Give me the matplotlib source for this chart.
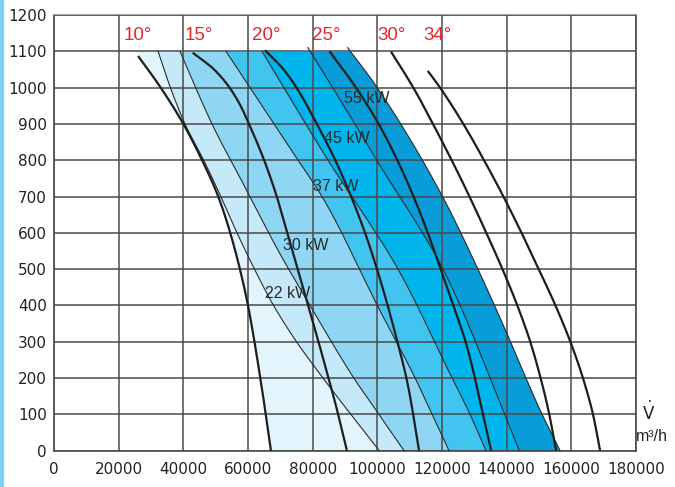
import numpy as np
import matplotlib.pyplot as plt
from matplotlib.patches import Rectangle

# fan curves, one per blade angle: airflow (m3/h) and pressure (Pa)
c10_x = [26000, 33000, 40000, 45800, 50800, 54500, 57500, 60000, 62000, 63800, 65500, 67100]
c10_y = [1087, 1000, 900, 800, 700, 600, 500, 400, 300, 200, 100, 0]
c15_x = [42900, 49500, 54300, 57700, 60300, 65000, 68900, 72200, 75400, 78600, 81800, 84900, 87900, 90600]
c15_y = [1096, 1050, 1000, 950, 900, 800, 700, 600, 500, 400, 300, 200, 100, 0]
c20_x = [65260, 71000, 75000, 81300, 87000, 91900, 96200, 99900, 103200, 106200, 109000, 111100, 112900]
c20_y = [1103, 1050, 1000, 900, 800, 700, 600, 500, 400, 300, 200, 100, 0]
c25_x = [85200, 93400, 100400, 106200, 111200, 115600, 119600, 123500, 127300, 130200, 132700, 135200]
c25_y = [1100, 1000, 900, 800, 700, 600, 500, 400, 300, 200, 100, 0]
c30_x = [104230, 111130, 117200, 123000, 128500, 133700, 138700, 143300, 147300, 150500, 152900, 155300]
c30_y = [1099, 1000, 900, 800, 700, 600, 500, 400, 300, 200, 112, 0]
c34_x = [115600, 119400, 126600, 133000, 139000, 144600, 149900, 155100, 159700, 163600, 166700, 168900]
c34_y = [1046, 1000, 900, 800, 700, 600, 500, 400, 300, 200, 100, 0]
angles = ['10°', '15°', '20°', '25°', '30°', '34°']

# motor power lines
p22_x = [32200, 36000, 40500, 46300, 51600, 56600, 62000, 67900, 75000, 83200, 91800, 100600]
p22_y = [1100, 1000, 900, 800, 700, 600, 500, 400, 300, 200, 100, 0]
p30_x = [38970, 48870, 60620, 69280, 80110, 93100, 99590, 108250]
p30_y = [1100, 900, 700, 552, 386, 195, 112, 0]
p37_x = [53200, 75470, 82900, 100800, 111970, 116300, 122170]
p37_y = [1100, 800, 700, 386, 195, 112, 0]
p45_x = [64330, 84750, 106400, 123410, 128050, 133620]
p45_y = [1100, 800, 500, 195, 112, 0]
p55_x = [78500, 85370, 99810, 120320, 138870, 143920]
p55_y = [1110, 1012, 800, 500, 112, 0]
pmax_x = [90800, 92080, 99810, 119920, 130740, 140020, 150320, 156510]
pmax_y = [1110, 1095, 1002, 704, 507, 324, 112, 0]
powers = ['22 kW', '30 kW', '37 kW', '45 kW', '55 kW']

band_colors = ['#e2f4fc', '#c6e9f9', '#8fd6f5', '#41c4f0', '#00b5ec', '#089dd8']


def pchip(xs, ys, yq):
    # monotone cubic, x as a function of pressure
    y = np.asarray(ys[::-1], float)
    x = np.asarray(xs[::-1], float)
    yq = np.clip(yq, y[0], y[-1])
    h = np.diff(y)
    d = np.diff(x) / h
    m = np.zeros_like(x)
    m[0], m[-1] = d[0], d[-1]
    for k in range(1, len(x) - 1):
        if d[k - 1] * d[k] > 0:
            w1 = 2 * h[k] + h[k - 1]
            w2 = h[k] + 2 * h[k - 1]
            m[k] = (w1 + w2) / (w1 / d[k - 1] + w2 / d[k])
    i = np.clip(np.searchsorted(y, yq) - 1, 0, len(y) - 2)
    t = (yq - y[i]) / h[i]
    return ((2 * t**3 - 3 * t**2 + 1) * x[i] + (t**3 - 2 * t**2 + t) * h[i] * m[i]
            + (-2 * t**3 + 3 * t**2) * x[i + 1] + (t**3 - t**2) * h[i] * m[i + 1])


def smooth(xs, ys):
    yq = np.linspace(min(ys), max(ys), 300)
    return pchip(xs, ys, yq), yq


fig = plt.figure(figsize=(6.75, 4.87), dpi=100)
ax = fig.add_axes([54 / 675, 1 - 450.7 / 487, 582 / 675, 435.7 / 487])
fig.patches.append(Rectangle((0, 0), 3 / 675, 1, transform=fig.transFigure,
                             color='#7fd4f3', zorder=0))

# coloured bands between the power lines
yy = np.linspace(0, 1100, 500)
edges = [(c10_x, c10_y), (p22_x, p22_y), (p30_x, p30_y), (p37_x, p37_y),
         (p45_x, p45_y), (p55_x, p55_y), (pmax_x, pmax_y)]
xs = [pchip(x, y, yy) for x, y in edges]
for i, col in enumerate(band_colors):
    ax.fill_betweenx(yy, xs[i], xs[i + 1], color=col, lw=0, zorder=1)

for x, y in edges[1:]:
    sx, sy = smooth(x, y)
    ax.plot(sx, sy, color='#2a2a2a', lw=0.8, zorder=3)

curves = [(c10_x, c10_y), (c15_x, c15_y), (c20_x, c20_y),
          (c25_x, c25_y), (c30_x, c30_y), (c34_x, c34_y)]
for x, y in curves:
    sx, sy = smooth(x, y)
    ax.plot(sx, sy, color='#1e1e1e', lw=1.6, zorder=4, solid_capstyle='butt')

# labels
sans = ['Liberation Sans', 'DejaVu Sans']
angle_pos = [25980, 44850, 65570, 84130, 104540, 118460]
for a, xp in zip(angles, angle_pos):
    ax.text(xp, 1143, a, color='#e6262d', fontsize=13.5, ha='center', va='center',
            family=sans, zorder=5)

power_pos = [(65260, 434), (70830, 566), (80110, 729), (83510, 861), (89700, 971)]
for p, (xp, yp) in zip(powers, power_pos):
    ax.text(xp, yp, p, color='#2a2a2a', fontsize=11.5, ha='left', va='center',
            family=sans, zorder=5)

ax.text(184000, 104, r'$\dot{\mathrm{V}}$', fontsize=12, ha='center', va='center',
        color='#222222', clip_on=False)
ax.text(184800, 38, 'm³/h', fontsize=11.5, ha='center', va='center',
        color='#222222', family=sans, clip_on=False)

ax.set_xlim(0, 180000)
ax.set_ylim(0, 1200)
ax.set_xticks(np.arange(0, 180001, 20000))
ax.set_yticks(np.arange(0, 1201, 100))
ax.set_xticklabels([str(v) for v in range(0, 180001, 20000)])
ax.set_yticklabels([str(v) for v in range(0, 1201, 100)])
for lab in ax.get_xticklabels() + ax.get_yticklabels():
    lab.set_family('DejaVu Sans')
    lab.set_fontsize(11)
    lab.set_color('#222222')
ax.tick_params(axis='both', length=0)
ax.tick_params(axis='y', pad=5)
ax.tick_params(axis='x', pad=8)

ax.set_axisbelow(False)
ax.grid(True, color='#4a4a4a', lw=1.1, zorder=2.5)
for side in ['left', 'bottom', 'right']:
    ax.spines[side].set_color('#4a4a4a')
    ax.spines[side].set_linewidth(1.2)
ax.spines['top'].set_color('#9a9a9a')
ax.spines['top'].set_linewidth(1.2)

fig.savefig('out.png', dpi=100)
